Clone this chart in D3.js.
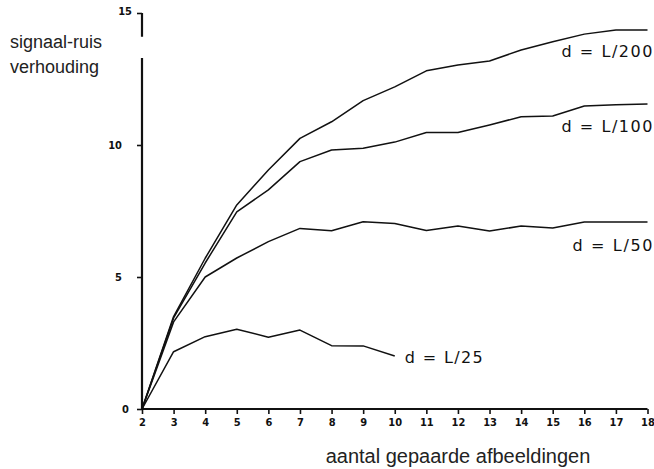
<!DOCTYPE html>
<html><head><meta charset="utf-8">
<script src="https://cdn.jsdelivr.net/npm/d3@7"></script>
<style>
html,body{margin:0;padding:0;background:#fff;}
svg{display:block;}
.tick text{font-family:"DejaVu Sans Condensed","DejaVu Sans",sans-serif;font-weight:bold;font-size:11px;fill:#111;}
</style></head>
<body>
<svg id="c" width="654" height="469"></svg>
<script>
const xValues = [2,3,4,5,6,7,8,9,10,11,12,13,14,15,16,17,18];
const yTicks = [0,5,10,15];
const seriesNames = ["d = L/200","d = L/100","d = L/50","d = L/25"];
const sL200 = [0,3.50,5.71,7.73,9.05,10.25,10.88,11.68,12.20,12.81,13.03,13.18,13.60,13.91,14.20,14.36,14.36];
const sL100 = [0,3.45,5.53,7.47,8.30,9.37,9.81,9.88,10.11,10.47,10.47,10.76,11.07,11.10,11.48,11.52,11.55];
const sL50  = [0,3.30,5.00,5.72,6.34,6.84,6.75,7.09,7.03,6.76,6.93,6.74,6.93,6.86,7.08,7.08,7.08];
const sL25  = [0,2.17,2.74,3.02,2.72,2.99,2.40,2.39,2.01];
const yTitle = ["signaal-ruis","verhouding"];
const xTitle = "aantal gepaarde afbeeldingen";

const svg = d3.select("#c");
const x = d3.scaleLinear().domain([2,18]).range([142,647.5]);
const y = d3.scaleLinear().domain([0,15]).range([409,13]);

// x axis
const xa = svg.append("g").attr("transform",`translate(0,${y(0)})`)
  .call(d3.axisBottom(x).tickValues(xValues).tickSize(5).tickPadding(4).tickFormat(d3.format("d")));
xa.select(".domain").attr("stroke","#111").attr("stroke-width",2).attr("d",`M${x(2)},0H${x(18)}`);
xa.selectAll(".tick line").attr("stroke","#111").attr("stroke-width",1.6);

// y axis
const ya = svg.append("g").attr("transform",`translate(${x(2)},0)`)
  .call(d3.axisLeft(y).tickValues(yTicks).tickSize(5).tickPadding(6));
ya.select(".domain").remove();
ya.selectAll(".tick line").attr("stroke","#111").attr("stroke-width",1.6);
ya.selectAll(".tick").filter(d=>d===15).select("text").attr("font-size","8px").attr("dy","0.1em").attr("x",-10);
ya.selectAll(".tick").filter(d=>d===0).select("text").attr("x",-13);
ya.selectAll(".tick").filter(d=>d===5||d===10).select("text").attr("x",-20);
// axis line with break
ya.append("line").attr("x1",0).attr("x2",0).attr("y1",y(15)).attr("y2",y(14.1)).attr("stroke","#111").attr("stroke-width",2.2);
ya.append("line").attr("x1",0).attr("x2",0).attr("y1",y(13.3)).attr("y2",y(0)).attr("stroke","#111").attr("stroke-width",2.2);

// lines
const line = d3.line().x((d,i)=>x(xValues[i])).y(d=>y(d));
const allSeries = [sL200,sL100,sL50,sL25];
svg.append("g").selectAll("path").data(allSeries).join("path")
  .attr("d",line).attr("fill","none").attr("stroke","#111").attr("stroke-width",1.5)
  .attr("stroke-linejoin","round");

// series labels
const labelFont = "'DejaVu Sans',sans-serif";
const lab = svg.append("g").attr("font-family",labelFont).attr("font-size","16px").attr("fill","#111");
[[0,0.8,91],[1,0.85,91],[2,0.87,80]].forEach(([k,off,w])=>{
  const s = allSeries[k];
  lab.append("text").attr("x",x(18)+5).attr("y",y(s[s.length-1]-off)).attr("dy","0.35em")
    .attr("text-anchor","end").attr("textLength",w).attr("lengthAdjust","spacing").text(seriesNames[k]);
});
{
  const s = sL25;
  lab.append("text").attr("x",x(xValues[s.length-1])+10).attr("y",y(s[s.length-1]-0.05)).attr("dy","0.35em")
    .attr("textLength",78).attr("lengthAdjust","spacing").text(seriesNames[3]);
}

// titles
const tt = svg.append("g").attr("font-family","'Liberation Sans',Arial,sans-serif").attr("font-size","18px").attr("fill","#222");
tt.append("text").attr("x",10).attr("y",48).text(yTitle[0]);
tt.append("text").attr("x",10).attr("y",73).text(yTitle[1]);
tt.append("text").attr("x",458).attr("y",463).attr("text-anchor","middle").attr("font-size","20px").text(xTitle);
</script>
</body></html>
